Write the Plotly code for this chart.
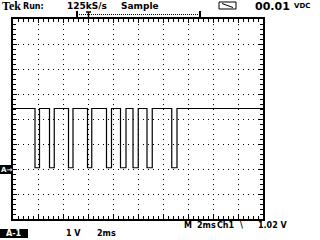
import plotly.graph_objects as go

# ---- data (time in ms, volts) ----
fall_ms = [1.76, 2.92, 4.44, 5.96, 7.48, 8.60, 9.60, 10.72, 12.70]
rise_ms = [2.12, 3.30, 4.80, 6.30, 7.88, 9.04, 10.02, 11.14, 13.12]
high_v = 2.42
low_v = 0.05
t_start, t_end = 0.0, 20.0

xs = [t_start]
ys = [high_v]
for f, r in zip(fall_ms, rise_ms):
    xs += [f, f, r, r]
    ys += [high_v, low_v, low_v, high_v]
xs.append(t_end)
ys.append(high_v)

# plot area in pixels
L, R, T, B = 13, 263, 19, 219
def px(x):
    return (x - L) / (R - L)
def py(y):
    return (B - y) / (B - T)

fig = go.Figure()
fig.add_trace(go.Scatter(x=xs, y=ys, mode="lines",
                         line=dict(color="black", width=1.2), hoverinfo="skip"))

axcommon = dict(showgrid=True, gridcolor="black", gridwidth=1, griddash="1px,4px",
                zeroline=False, showline=True, linecolor="black", linewidth=1.5,
                mirror="allticks", ticks="inside", ticklen=4, tickcolor="black",
                tickwidth=1, showticklabels=False, fixedrange=True)
fig.update_xaxes(range=[0, 20], dtick=2, tick0=0,
                 minor=dict(dtick=0.4, ticks="inside", ticklen=3, tickcolor="black", showgrid=False),
                 **axcommon)
fig.update_yaxes(range=[-2, 6], dtick=1, tick0=0,
                 minor=dict(dtick=0.2, ticks="inside", ticklen=3, tickcolor="black", showgrid=False),
                 **axcommon)

def txt(s, x, y, size, family="DejaVu Sans", color="black", bg=None, anchor="left"):
    fig.add_annotation(text=s, x=px(x), y=py(y), xref="paper", yref="paper",
                       xanchor=anchor, yanchor="middle", showarrow=False,
                       font=dict(family=family, size=size, color=color),
                       bgcolor=bg, borderpad=0)

# top row
txt("<b>Tek</b>", 11, 6, 12, family="Liberation Serif", anchor="center")
txt("<b>Run:</b>", 33, 6, 8, anchor="center")
txt("<b>125kS/s</b>", 87, 6, 9, anchor="center")
txt("<b>Sample</b>", 140, 6, 9, anchor="center")
txt("<b>00.01</b>", 272, 6, 11, anchor="center")
txt("<b>VDC</b>", 302, 6, 7, anchor="center")

# trigger position bar
fig.add_shape(type="line", xref="paper", yref="paper", x0=px(77), x1=px(200), y0=py(14.5), y1=py(14.5),
              line=dict(color="black", width=1, dash="1px,1px"))
fig.add_shape(type="line", xref="paper", yref="paper", x0=px(77), x1=px(77), y0=py(11), y1=py(18),
              line=dict(color="black", width=2))
fig.add_shape(type="line", xref="paper", yref="paper", x0=px(200), x1=px(200), y0=py(11), y1=py(18),
              line=dict(color="black", width=2))
fig.add_shape(type="line", xref="paper", yref="paper", x0=px(86), x1=px(91), y0=py(12), y1=py(12),
              line=dict(color="black", width=1.5))
fig.add_shape(type="line", xref="paper", yref="paper", x0=px(88.5), x1=px(88.5), y0=py(12), y1=py(18),
              line=dict(color="black", width=1.5))

# icon
fig.add_shape(type="rect", xref="paper", yref="paper", x0=px(219), x1=px(236), y0=py(2), y1=py(9),
              line=dict(color="black", width=1))
fig.add_shape(type="line", xref="paper", yref="paper", x0=px(222), x1=px(233), y0=py(3.5), y1=py(7.5),
              line=dict(color="black", width=1))

# bottom rows
txt("<b>M</b>", 188, 225, 8, anchor="center")
txt("<b>2ms</b>", 206, 225, 8, anchor="center")
txt("<b>Ch1</b>", 226, 225, 8, anchor="center")
txt("<b>\\</b>", 241, 225, 8, anchor="center")
txt("<b>1.02 V</b>", 273, 225, 8, anchor="center")

fig.add_shape(type="rect", xref="paper", yref="paper", x0=px(0), x1=px(28), y0=py(229), y1=py(238),
              line=dict(width=0), fillcolor="black")
txt("<b>A-1</b>", 14, 233.5, 8, color="white", anchor="center")
txt("<b>1 V</b>", 73, 233.5, 8, anchor="center")
txt("<b>2ms</b>", 106, 233.5, 8, anchor="center")

# ground marker
fig.add_shape(type="rect", xref="paper", yref="paper", x0=px(0), x1=px(13), y0=py(165), y1=py(174),
              line=dict(width=0), fillcolor="black")
txt("<b>A→</b>", 6.5, 169.5, 7, color="white", anchor="center")

fig.update_layout(width=320, height=240, margin=dict(l=L, r=320 - R, t=T, b=240 - B),
                  paper_bgcolor="white", plot_bgcolor="white", showlegend=False)
fig.write_html("out.html", config={"displayModeBar": False})
